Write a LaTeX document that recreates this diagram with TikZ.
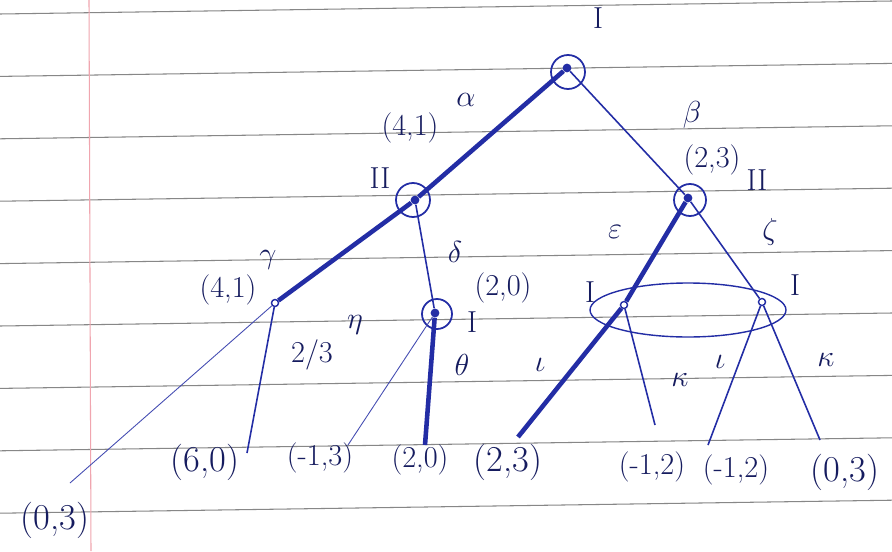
\documentclass[tikz,border=0pt]{standalone}
\usepackage{amsmath,amssymb}
\usepackage{xcolor}
\usepackage{tikz}
\usetikzlibrary{arrows.meta,calc}

\definecolor{ink}{RGB}{35,45,165}
\definecolor{inkdark}{RGB}{22,28,95}
\definecolor{rulegray}{RGB}{135,135,135}
\definecolor{marginred}{RGB}{240,165,175}

\begin{document}
\begin{tikzpicture}[x=0.02cm,y=-0.02cm,
  dot/.style={circle,fill=ink,inner sep=0pt,minimum size=5pt},
  hollow/.style={circle,draw=ink,fill=white,line width=0.8pt,inner sep=0pt,minimum size=4pt},
  ring/.style={draw=ink,line width=1pt},
  move/.style={draw=ink,line width=0.9pt},
  eqpath/.style={draw=ink,line width=2.6pt},
  faint/.style={draw=ink!85,line width=0.5pt},
  lbl/.style={text=inkdark,font=\LARGE},
  pay/.style={text=inkdark,font=\huge}]
  \useasboundingbox (0,0) rectangle (892,551);
  \fill[white] (0,0) rectangle (892,551);
  % ruled paper
  \foreach \k in {0,...,8}
    \draw[rulegray,line width=0.6pt] (0,14+62.4*\k) -- (892,1+62.4*\k);
  \draw[marginred,line width=0.6pt] (89,0) -- (91,551);

  % decision nodes
  \node[dot] (root) at (567,68) {};
  \node[dot] (IIa) at (415,200) {};
  \node[dot] (IIb) at (688,198) {};
  \node[hollow] (chance) at (275,303) {};
  \node[dot] (Im) at (435,313) {};
  \node[hollow] (Ia) at (624,305) {};
  \node[hollow] (Ib) at (762,302) {};
  \draw[ring] ($(root)+(1,4)$) circle[radius=17];
  \draw[ring] ($(IIa)+(-2,0)$) circle[radius=17];
  \draw[ring] ($(IIb)+(2,2)$) circle[radius=16];
  \draw[ring] ($(Im)+(2,1)$) circle[radius=15];
  \draw[move,line width=0.8pt] (688,310) ellipse[x radius=98,y radius=27];

  % end points
  \coordinate (t1) at (70,483);
  \coordinate (t2) at (247,453);
  \coordinate (t3) at (348,445);
  \coordinate (t4) at (425,445);
  \coordinate (t5) at (518,437);
  \coordinate (t6) at (655,425);
  \coordinate (t7) at (708,445);
  \coordinate (t8) at (820,440);

  % moves
  \draw[eqpath] (root) -- (IIa);
  \draw[move] (root) -- (IIb);
  \draw[eqpath] (IIa) -- (chance);
  \draw[move] (IIa) -- (Im);
  \draw[faint] (chance) -- (t1);
  \draw[move] (chance) -- (t2);
  \draw[faint] (Im) -- (t3);
  \draw[eqpath] (Im) -- (t4);
  \draw[eqpath] (IIb) -- (Ia);
  \draw[move] (IIb) -- (Ib);
  \draw[eqpath] (Ia) -- (t5);
  \draw[move] (Ia) -- (t6);
  \draw[move] (Ib) -- (t7);
  \draw[move] (Ib) -- (t8);

  % players and labels
  \node[lbl] (plI) at (598,18) {I};
  \node[lbl] (plIIa) at (380,178) {II};
  \node[lbl] (plIIb) at (757,180) {II};
  \node[lbl] (plIm) at (472,322) {I};
  \node[lbl] (plIa) at (590,292) {I};
  \node[lbl] (plIb) at (795,285) {I};
  \node[lbl] (alpha) at (466,100) {$\alpha$};
  \node[lbl] (beta) at (692,115) {$\beta$};
  \node[lbl] (gamma) at (268,260) {$\gamma$};
  \node[lbl] (delta) at (455,252) {$\delta$};
  \node[lbl] (eps) at (615,232) {$\varepsilon$};
  \node[lbl] (zeta) at (770,232) {$\zeta$};
  \node[lbl] (eta) at (355,325) {$\eta$};
  \node[lbl] (theta) at (462,365) {$\theta$};
  \node[lbl] (iotaA) at (540,365) {$\iota$};
  \node[lbl] (kappaA) at (680,380) {$\kappa$};
  \node[lbl] (iotaB) at (720,362) {$\iota$};
  \node[lbl] (kappaB) at (826,360) {$\kappa$};
  \node[lbl] (prob) at (312,355) {2/3};
  \node[lbl] (valA) at (410,128) {(4,1)};
  \node[lbl] (valB) at (712,160) {(2,3)};
  \node[lbl] (valC) at (228,290) {(4,1)};
  \node[lbl] (valM) at (503,288) {(2,0)};

  % payoffs
  \node[pay] (p1) at (55,520) {(0,3)};
  \node[pay] (p2) at (205,462) {(6,0)};
  \node[lbl] (p3) at (320,458) {(-1,3)};
  \node[lbl] (p4) at (420,460) {(2,0)};
  \node[pay] (p5) at (508,462) {(2,3)};
  \node[lbl] (p6) at (652,467) {(-1,2)};
  \node[lbl] (p7) at (736,470) {(-1,2)};
  \node[pay] (p8) at (845,472) {(0,3)};
\end{tikzpicture}
\end{document}
